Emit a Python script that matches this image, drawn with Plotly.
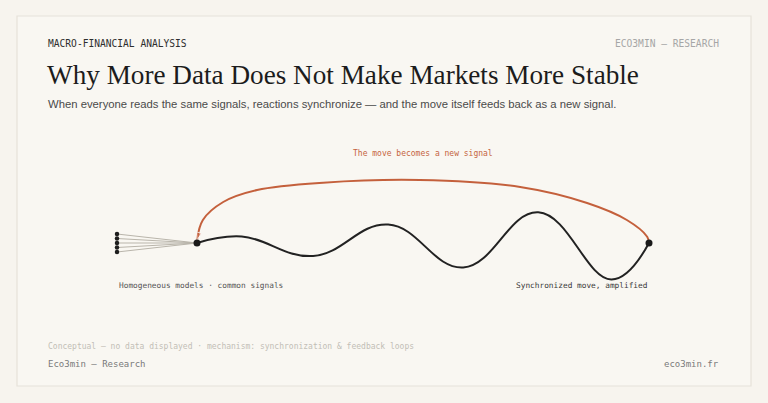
import plotly.graph_objects as go

# Schéma conceptuel : x = temps (0 = signal commun, 100 = mouvement synchronisé), y = écart
fan_x = [-17.7, -17.7, -17.7, -17.7, -17.7]
fan_y = [9, 4.5, 0, -4.5, -9]

# départ, sommets / creux et arrivée
wave_x = [0, 9.9, 25.7, 42.3, 58.9, 75.5, 91.7, 100]
wave_y = [0, 6.5, -13, 18.5, -24.5, 30.7, -36.5, 0]

loop_x = [100, 99.6, 95.1, 86.3, 71.5, 49.3, 27.9, 13.3, 5.8, 1.3, 0]
loop_y = [0, 6.3, 23, 40, 56, 63, 60.3, 53, 41, 23, 3]

W, H = 768, 403
BG = "#f7f4ee"
MONO = "DejaVu Sans Mono"

fig = go.Figure()

# lignes du faisceau vers le point de convergence
fx, fy = [], []
for x0, y0 in zip(fan_x, fan_y):
    fx += [x0, wave_x[0], None]
    fy += [y0, wave_y[0], None]
fig.add_trace(go.Scatter(x=fx, y=fy, mode="lines",
                         line=dict(color="#b9b5ab", width=1), hoverinfo="skip"))
fig.add_trace(go.Scatter(x=fan_x, y=fan_y, mode="markers",
                         marker=dict(color="#1e1e1e", size=4.5), hoverinfo="skip"))

# boucle de rétroaction
fig.add_trace(go.Scatter(x=loop_x, y=loop_y, mode="lines+markers",
                         line=dict(color="#c4603c", width=2, shape="spline", smoothing=1),
                         marker=dict(symbol="arrow", angleref="previous", color="#c4603c",
                                     size=[0] * (len(loop_x) - 1) + [8]),
                         hoverinfo="skip"))

# mouvement amplifié
fig.add_trace(go.Scatter(x=wave_x, y=wave_y, mode="lines",
                         line=dict(color="#222222", width=2, shape="spline", smoothing=1.2),
                         hoverinfo="skip"))
fig.add_trace(go.Scatter(x=[wave_x[0], wave_x[-1]], y=[wave_y[0], wave_y[-1]], mode="markers",
                         marker=dict(color="#1a1a1a", size=7), hoverinfo="skip"))


def px(x, y):
    return x / W, 1 - y / H


def texte(t, x, y, size, color, family=MONO, anchor="left"):
    xp, yp = px(x, y)
    fig.add_annotation(text=t, x=xp, y=yp, xref="paper", yref="paper", showarrow=False,
                       xanchor=anchor, yanchor="middle",
                       font=dict(family=family, size=size, color=color))


texte("MACRO-FINANCIAL ANALYSIS", 46, 43, 9.6, "#2e2e2e")
texte("ECO3MIN — RESEARCH", 721, 43, 9.6, "#a6a6a6", anchor="right")
texte("Why More Data Does Not Make Markets More Stable", 45, 75, 27.2, "#1c1c1c",
      family="Liberation Serif")
texte("When everyone reads the same signals, reactions synchronize — and the move itself feeds back as a new signal.",
      46, 104, 11.3, "#4a4a4a", family="Liberation Sans")

fig.add_annotation(text="The move becomes a new signal", x=50, y=90, showarrow=False,
                   font=dict(family=MONO, size=8, color="#c5643f"))
fig.add_annotation(text="Homogeneous models · common signals", x=fan_x[0], y=-42,
                   xanchor="left", showarrow=False, font=dict(family=MONO, size=7.8, color="#555555"))
fig.add_annotation(text="Synchronized move, amplified", x=wave_x[-1], y=-42,
                   xanchor="right", showarrow=False, font=dict(family=MONO, size=7.8, color="#3a3a3a"))

texte("Conceptual — no data displayed · mechanism: synchronization & feedback loops",
      46, 346, 8, "#c2beb6")
texte("Eco3min — Research", 46, 364, 9, "#7a7a7a")
texte("eco3min.fr", 721, 364, 9, "#7a7a7a", anchor="right")

# cadre de la carte
fig.add_shape(type="rect", xref="paper", yref="paper", x0=17 / W, x1=751 / W,
              y0=1 - 386 / H, y1=1 - 16 / H, line=dict(color="#e6e2d9", width=1.2),
              fillcolor="#f9f7f2", layer="below")

fig.update_layout(width=W, height=H, margin=dict(l=0, r=0, t=0, b=0),
                  paper_bgcolor=BG, plot_bgcolor="rgba(0,0,0,0)", showlegend=False,
                  xaxis=dict(range=[-197 / 4.52, (W - 197) / 4.52], visible=False, fixedrange=True),
                  yaxis=dict(range=[243 - H, 243], visible=False, fixedrange=True))

fig.write_html("out.html", config={"displayModeBar": False},
               post_script="document.body.style.margin='0';document.body.style.background='" + BG + "';")
